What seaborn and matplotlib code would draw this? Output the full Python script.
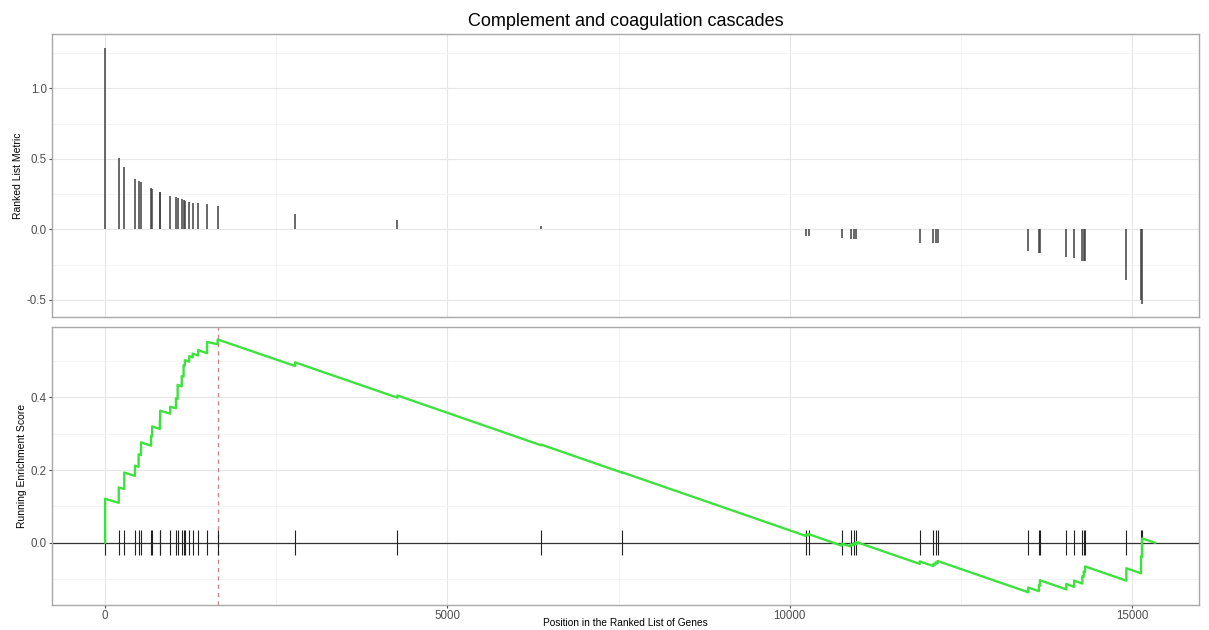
import numpy as np
import pandas as pd
import matplotlib
matplotlib.use("Agg")
import matplotlib.pyplot as plt
import seaborn as sns
from matplotlib.ticker import FixedLocator, NullFormatter

# ---------------- data ----------------
title = "Complement and coagulation cascades"

hit_rank = [1, 200, 280, 437, 490, 525, 672, 688, 800, 805, 952, 1035, 1060,
            1120, 1147, 1166, 1229, 1280, 1360, 1490, 1645, 2775, 4270, 6370,
            7550, 10235, 10275, 10760, 10890, 10935, 10975, 11900, 12100,
            12130, 12160, 13485, 13640, 13655, 14040, 14155, 14275, 14295,
            14315, 14918, 15132, 15147]

hit_metric = [1.288, 0.503, 0.442, 0.359, 0.343, 0.333, 0.291, 0.289, 0.267,
              0.265, 0.238, 0.229, 0.222, 0.213, 0.208, 0.201, 0.196, 0.189,
              0.184, 0.177, 0.163, 0.109, 0.064, 0.020, 0.005, -0.045, -0.045,
              -0.060, -0.067, -0.067, -0.067, -0.095, -0.100, -0.100, -0.100,
              -0.157, -0.166, -0.166, -0.197, -0.204, -0.225, -0.225, -0.225,
              -0.363, -0.500, -0.530]

es_before = [0.000, 0.110, 0.148, 0.184, 0.209, 0.241, 0.267, 0.293, 0.313,
             0.338, 0.355, 0.370, 0.396, 0.430, 0.457, 0.487, 0.498, 0.510,
             0.515, 0.521, 0.546, 0.486, 0.399, 0.268, 0.193, 0.019, 0.020,
             -0.008, -0.010, -0.007, -0.004, -0.058, -0.064, -0.060, -0.056,
             -0.136, -0.133, -0.118, -0.128, -0.121, -0.112, -0.093, -0.080,
             -0.104, -0.084, -0.038]

es_after = [0.121, 0.152, 0.193, 0.212, 0.243, 0.276, 0.294, 0.320, 0.338,
            0.363, 0.374, 0.397, 0.434, 0.458, 0.488, 0.502, 0.513, 0.520,
            0.530, 0.552, 0.559, 0.496, 0.405, 0.270, 0.194, 0.023, 0.024,
            -0.002, -0.004, -0.001, 0.002, -0.051, -0.058, -0.054, -0.050,
            -0.123, -0.117, -0.103, -0.113, -0.104, -0.092, -0.079, -0.065,
            -0.070, -0.037, 0.012]

n_genes = 15340
end_es = 0.0
peak_rank = 1645

x_major = [0, 5000, 10000, 15000]
x_minor = [2500, 7500, 12500]
top_major = [-0.5, 0.0, 0.5, 1.0]
top_minor = [-0.25, 0.25, 0.75, 1.25]
bot_major = [0.0, 0.2, 0.4]
bot_minor = [-0.1, 0.1, 0.3, 0.5]

# ---------------- build the running-score path ----------------
xs = [0]
ys = [0.0]
for r, b, a in zip(hit_rank, es_before, es_after):
    xs += [r, r]
    ys += [b, a]
xs.append(n_genes)
ys.append(end_es)
es_df = pd.DataFrame({"rank": xs, "es": ys})

# ---------------- style ----------------
sns.set_theme(style="white")
plt.rcParams["font.family"] = ["Liberation Sans", "DejaVu Sans"]

fig = plt.figure(figsize=(12.09, 6.30), dpi=100)
ax1 = fig.add_axes([0.0433, 0.4973, 0.9485, 0.4483])
ax2 = fig.add_axes([0.0433, 0.0397, 0.9485, 0.4417])

xlim = (-770, 15980)
tick_col = "#4d4d4d"
grid_major = "#e6e6e6"
grid_minor = "#f2f2f2"
spine_col = "#a8a8a8"

for ax, ymaj, ymin in ((ax1, top_major, top_minor), (ax2, bot_major, bot_minor)):
    ax.set_facecolor("white")
    ax.set_xlim(*xlim)
    ax.xaxis.set_major_locator(FixedLocator(x_major))
    ax.xaxis.set_minor_locator(FixedLocator(x_minor))
    ax.yaxis.set_major_locator(FixedLocator(ymaj))
    ax.yaxis.set_minor_locator(FixedLocator(ymin))
    ax.grid(which="major", color=grid_major, lw=0.8, zorder=0)
    ax.grid(which="minor", color=grid_minor, lw=0.6, zorder=0)
    ax.set_axisbelow(True)
    for s in ax.spines.values():
        s.set_color(spine_col)
        s.set_linewidth(1.0)
    ax.tick_params(axis="both", which="major", labelsize=8.3, colors=tick_col,
                   length=2.5, width=0.8, pad=1.5, direction="out",
                   left=True, bottom=True)
    ax.tick_params(axis="both", which="minor", length=0)

# ---------------- top panel: ranked list metric ----------------
ax1.vlines(hit_rank, 0, hit_metric, color="#404040", lw=1.1, zorder=3)
ax1.set_ylim(-0.62, 1.383)
ax1.set_yticklabels(["-0.5", "0.0", "0.5", "1.0"])
ax1.xaxis.set_major_formatter(NullFormatter())
ax1.tick_params(axis="x", which="major", length=0)
ax1.set_ylabel("Ranked List Metric", fontsize=7.5, color="black", labelpad=3)
ax1.set_xlabel("")
ax1.set_title(title, fontsize=13, color="black", pad=6)

# ---------------- bottom panel: running enrichment score ----------------
ax2.axhline(0, color="#333333", lw=0.9, zorder=2)
ax2.vlines(hit_rank, -0.033, 0.034, color="#222222", lw=0.8, zorder=3)
ax2.axvline(peak_rank, color="#c98686", ls=(0, (3, 3)), lw=1.0, zorder=2)
sns.lineplot(data=es_df, x="rank", y="es", estimator=None, sort=False,
             color="#3ee23e", lw=1.7, ax=ax2, zorder=4)
ax2.set_xlim(*xlim)
ax2.set_ylim(-0.171, 0.594)
ax2.set_yticklabels(["0.0", "0.2", "0.4"])
ax2.set_xticklabels([str(v) for v in x_major])
ax2.tick_params(axis="x", which="major", pad=1.0)
ax2.set_ylabel("Running Enrichment Score", fontsize=7.5, color="black", labelpad=3)
ax2.set_xlabel("Position in the Ranked List of Genes", fontsize=7.3,
               color="black", va="center")
ax2.xaxis.set_label_coords(0.5, -0.063)

fig.savefig("out.png", dpi=100, facecolor="white")
